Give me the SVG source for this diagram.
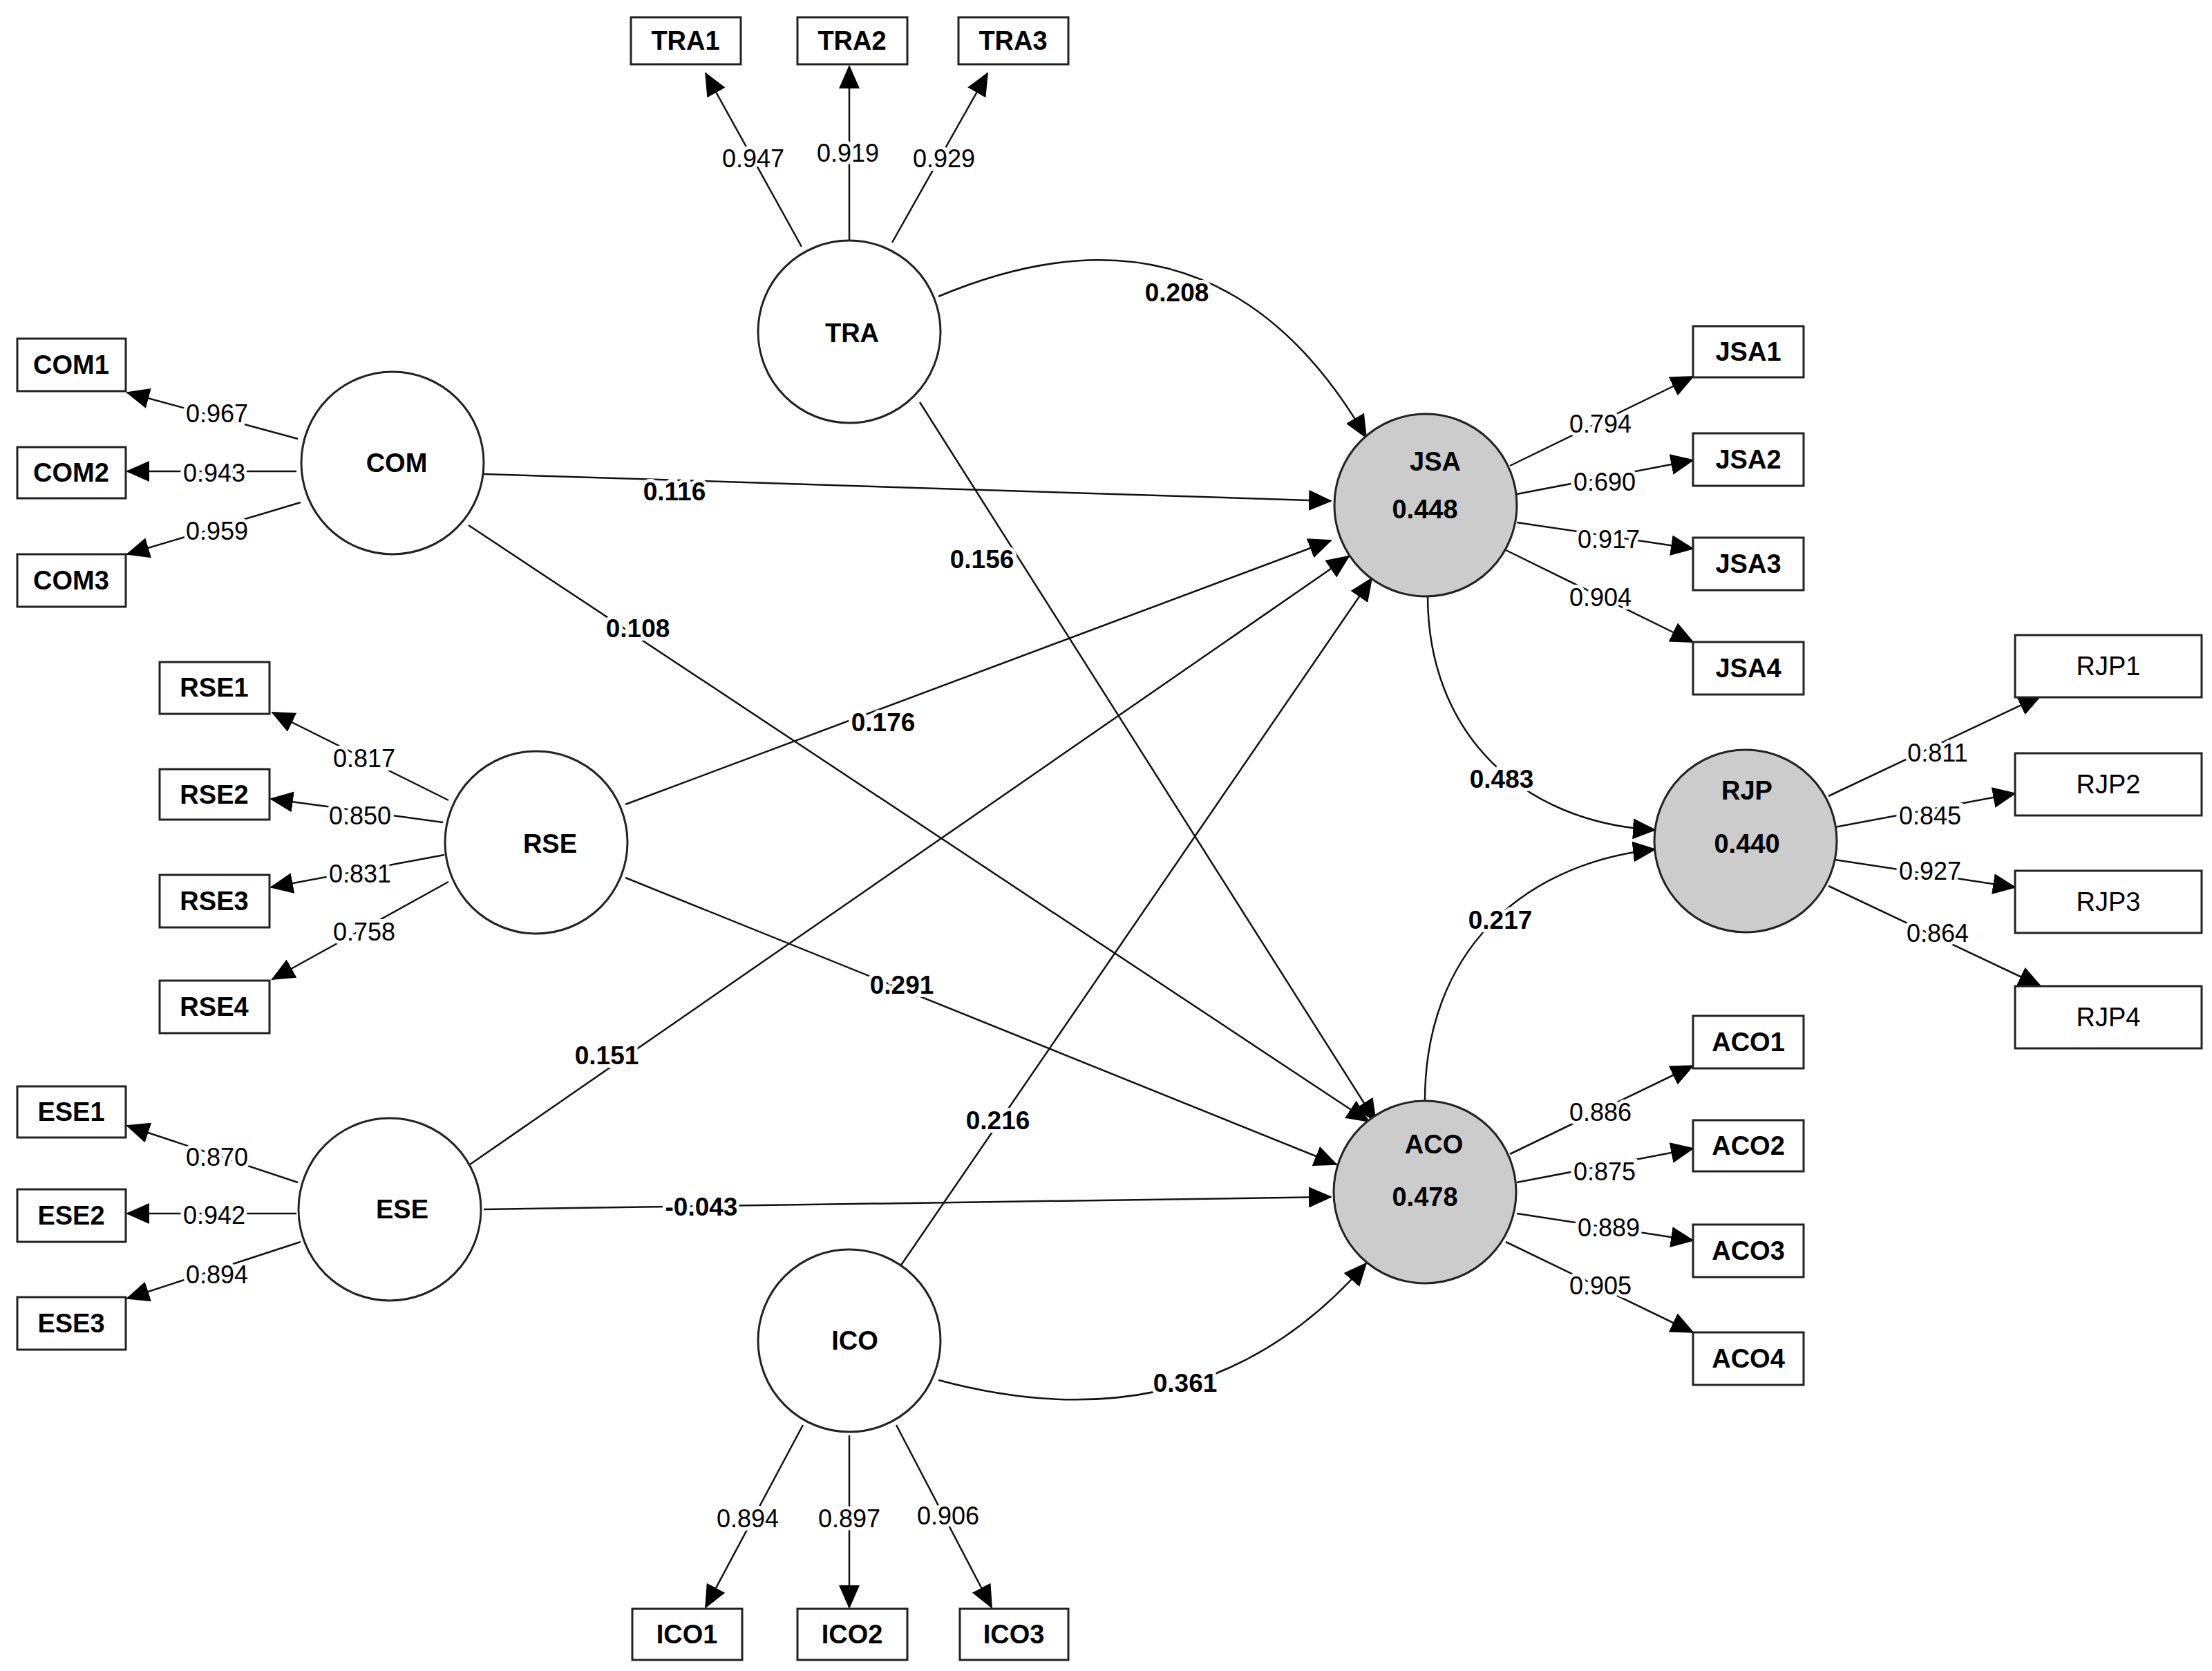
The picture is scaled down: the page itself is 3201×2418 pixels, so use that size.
<svg xmlns="http://www.w3.org/2000/svg" width="3201" height="2418" viewBox="0 0 3201 2418">
<style>
text{font-family:"Liberation Sans Narrow","Liberation Sans",Arial,sans-serif;text-anchor:middle;dominant-baseline:central;fill:#000}
.lv{fill:#fff;stroke:#222;stroke-width:3}
.en{fill:#cccccc;stroke:#222;stroke-width:3}
.bx{fill:#fff;stroke:#222;stroke-width:3}
.bl{font-size:38px;font-weight:bold}
.rg{font-size:38px}
.nm{font-size:36px;paint-order:stroke;stroke:#fff;stroke-width:10px}
.pc{font-size:37px;font-weight:bold;paint-order:stroke;stroke:#fff;stroke-width:10px}
.ln{fill:none;stroke:#111;stroke-width:2.5;marker-end:url(#ah)}
</style>
<defs>
<marker id="ah" markerUnits="userSpaceOnUse" markerWidth="34" markerHeight="30" refX="32" refY="15" orient="auto">
<path d="M0,0 L34,15 L0,30 Z" fill="#000"/>
</marker>
</defs>
<rect width="3201" height="2418" fill="#fff"/>
<g id="connectors">
<line class="ln" x1="1160" y1="357" x2="1021" y2="106"/>
<line class="ln" x1="1229" y1="349" x2="1229" y2="96"/>
<line class="ln" x1="1291" y1="351" x2="1429" y2="106"/>
<line class="ln" x1="431" y1="635" x2="184" y2="568"/>
<line class="ln" x1="429" y1="682" x2="184" y2="682"/>
<line class="ln" x1="435" y1="727" x2="184" y2="802"/>
<line class="ln" x1="649" y1="1158" x2="394" y2="1031"/>
<line class="ln" x1="641" y1="1190" x2="392" y2="1156"/>
<line class="ln" x1="643" y1="1237" x2="392" y2="1284"/>
<line class="ln" x1="649" y1="1276" x2="394" y2="1417"/>
<line class="ln" x1="431" y1="1711" x2="184" y2="1629"/>
<line class="ln" x1="429" y1="1756" x2="184" y2="1756"/>
<line class="ln" x1="435" y1="1797" x2="184" y2="1879"/>
<line class="ln" x1="1162" y1="2062" x2="1021" y2="2326"/>
<line class="ln" x1="1229" y1="2077" x2="1229" y2="2326"/>
<line class="ln" x1="1297" y1="2062" x2="1435" y2="2326"/>
<line class="ln" x1="2185" y1="674" x2="2450" y2="545"/>
<line class="ln" x1="2195" y1="715" x2="2450" y2="666"/>
<line class="ln" x1="2195" y1="756" x2="2450" y2="794"/>
<line class="ln" x1="2179" y1="796" x2="2450" y2="929"/>
<line class="ln" x1="2185" y1="1670" x2="2450" y2="1542"/>
<line class="ln" x1="2195" y1="1711" x2="2450" y2="1662"/>
<line class="ln" x1="2195" y1="1756" x2="2450" y2="1795"/>
<line class="ln" x1="2179" y1="1797" x2="2450" y2="1928"/>
<line class="ln" x1="2646" y1="1152" x2="2953" y2="1007"/>
<line class="ln" x1="2655" y1="1197" x2="2916" y2="1148"/>
<line class="ln" x1="2655" y1="1244" x2="2916" y2="1284"/>
<line class="ln" x1="2646" y1="1282" x2="2953" y2="1427"/>
<path class="ln" d="M1358,429 Q1760,260 1977,633"/>
<line class="ln" x1="700" y1="686" x2="1926" y2="725"/>
<line class="ln" x1="678" y1="760" x2="1981" y2="1623"/>
<line class="ln" x1="1331" y1="582" x2="1991" y2="1623"/>
<line class="ln" x1="905" y1="1164" x2="1926" y2="782"/>
<line class="ln" x1="905" y1="1270" x2="1934" y2="1685"/>
<line class="ln" x1="680" y1="1685" x2="1952" y2="805"/>
<line class="ln" x1="700" y1="1750" x2="1926" y2="1732"/>
<line class="ln" x1="1303" y1="1832" x2="1985" y2="837"/>
<path class="ln" d="M1358,1997 Q1740,2100 1977,1828"/>
<path class="ln" d="M2066,862 C2066,1060 2200,1190 2395,1201"/>
<path class="ln" d="M2062,1593 C2062,1380 2200,1250 2395,1229"/>
</g>
<g id="labels">
<text class="nm" x="1090" y="229">0.947</text>
<text class="nm" x="1227" y="221">0.919</text>
<text class="nm" x="1366" y="229">0.929</text>
<text class="nm" x="314" y="598">0.967</text>
<text class="nm" x="310" y="684">0.943</text>
<text class="nm" x="314" y="768">0.959</text>
<text class="nm" x="527" y="1097">0.817</text>
<text class="nm" x="521" y="1180">0.850</text>
<text class="nm" x="521" y="1264">0.831</text>
<text class="nm" x="527" y="1348">0.758</text>
<text class="nm" x="314" y="1674">0.870</text>
<text class="nm" x="310" y="1758">0.942</text>
<text class="nm" x="314" y="1844">0.894</text>
<text class="nm" x="1082" y="2197">0.894</text>
<text class="nm" x="1229" y="2197">0.897</text>
<text class="nm" x="1372" y="2193">0.906</text>
<text class="nm" x="2316" y="613">0.794</text>
<text class="nm" x="2322" y="697">0.690</text>
<text class="nm" x="2328" y="780">0.917</text>
<text class="nm" x="2316" y="864">0.904</text>
<text class="nm" x="2316" y="1609">0.886</text>
<text class="nm" x="2322" y="1695">0.875</text>
<text class="nm" x="2328" y="1776">0.889</text>
<text class="nm" x="2316" y="1860">0.905</text>
<text class="nm" x="2804" y="1089">0.811</text>
<text class="nm" x="2793" y="1180">0.845</text>
<text class="nm" x="2793" y="1260">0.927</text>
<text class="nm" x="2804" y="1350">0.864</text>
<text class="pc" x="1703" y="423">0.208</text>
<text class="pc" x="976" y="711">0.116</text>
<text class="pc" x="923" y="909">0.108</text>
<text class="pc" x="1421" y="809">0.156</text>
<text class="pc" x="1278" y="1045">0.176</text>
<text class="pc" x="1305" y="1425">0.291</text>
<text class="pc" x="878" y="1527">0.151</text>
<text class="pc" x="1015" y="1746">-0.043</text>
<text class="pc" x="1444" y="1621">0.216</text>
<text class="pc" x="1715" y="2001">0.361</text>
<text class="pc" x="2173" y="1127">0.483</text>
<text class="pc" x="2171" y="1331">0.217</text>
</g>
<g id="TRA"><circle class="lv" cx="1229" cy="480" r="132"/><text class="bl" x="1233" y="482">TRA</text></g>
<g id="COM"><circle class="lv" cx="568" cy="670" r="132"/><text class="bl" x="574" y="670">COM</text></g>
<g id="RSE"><circle class="lv" cx="776" cy="1219" r="132"/><text class="bl" x="796" y="1221">RSE</text></g>
<g id="ESE"><circle class="lv" cx="564" cy="1750" r="132"/><text class="bl" x="582" y="1750">ESE</text></g>
<g id="ICO"><circle class="lv" cx="1229" cy="1940" r="132"/><text class="bl" x="1237" y="1940">ICO</text></g>
<g id="JSA"><circle class="en" cx="2063" cy="731" r="132"/><text class="bl" x="2077" y="668">JSA</text><text class="bl" x="2062" y="737">0.448</text></g>
<g id="ACO"><circle class="en" cx="2062" cy="1725" r="132"/><text class="bl" x="2075" y="1656">ACO</text><text class="bl" x="2062" y="1732">0.478</text></g>
<g id="RJP"><circle class="en" cx="2526" cy="1217" r="132"/><text class="bl" x="2528" y="1144">RJP</text><text class="bl" x="2528" y="1221">0.440</text></g>
<g id="TRA1"><rect class="bx" x="913" y="25" width="159" height="68"/><text class="bl" x="992" y="59">TRA1</text></g>
<g id="TRA2"><rect class="bx" x="1154" y="25" width="159" height="68"/><text class="bl" x="1233" y="59">TRA2</text></g>
<g id="TRA3"><rect class="bx" x="1387" y="25" width="159" height="68"/><text class="bl" x="1466" y="59">TRA3</text></g>
<g id="COM1"><rect class="bx" x="25" y="490" width="157" height="76"/><text class="bl" x="103" y="528">COM1</text></g>
<g id="COM2"><rect class="bx" x="25" y="647" width="157" height="74"/><text class="bl" x="103" y="684">COM2</text></g>
<g id="COM3"><rect class="bx" x="25" y="802" width="157" height="76"/><text class="bl" x="103" y="840">COM3</text></g>
<g id="RSE1"><rect class="bx" x="231" y="958" width="159" height="75"/><text class="bl" x="310" y="995">RSE1</text></g>
<g id="RSE2"><rect class="bx" x="231" y="1113" width="159" height="73"/><text class="bl" x="310" y="1150">RSE2</text></g>
<g id="RSE3"><rect class="bx" x="231" y="1266" width="159" height="76"/><text class="bl" x="310" y="1304">RSE3</text></g>
<g id="RSE4"><rect class="bx" x="231" y="1419" width="159" height="76"/><text class="bl" x="310" y="1457">RSE4</text></g>
<g id="ESE1"><rect class="bx" x="25" y="1572" width="157" height="74"/><text class="bl" x="103" y="1609">ESE1</text></g>
<g id="ESE2"><rect class="bx" x="25" y="1721" width="157" height="76"/><text class="bl" x="103" y="1759">ESE2</text></g>
<g id="ESE3"><rect class="bx" x="25" y="1877" width="157" height="76"/><text class="bl" x="103" y="1915">ESE3</text></g>
<g id="ICO1"><rect class="bx" x="915" y="2328" width="159" height="74"/><text class="bl" x="994" y="2365">ICO1</text></g>
<g id="ICO2"><rect class="bx" x="1154" y="2328" width="159" height="74"/><text class="bl" x="1233" y="2365">ICO2</text></g>
<g id="ICO3"><rect class="bx" x="1389" y="2328" width="157" height="74"/><text class="bl" x="1467" y="2365">ICO3</text></g>
<g id="JSA1"><rect class="bx" x="2450" y="472" width="160" height="74"/><text class="bl" x="2530" y="509">JSA1</text></g>
<g id="JSA2"><rect class="bx" x="2450" y="627" width="160" height="76"/><text class="bl" x="2530" y="665">JSA2</text></g>
<g id="JSA3"><rect class="bx" x="2450" y="778" width="160" height="76"/><text class="bl" x="2530" y="816">JSA3</text></g>
<g id="JSA4"><rect class="bx" x="2450" y="929" width="160" height="76"/><text class="bl" x="2530" y="967">JSA4</text></g>
<g id="ACO1"><rect class="bx" x="2450" y="1470" width="160" height="76"/><text class="bl" x="2530" y="1508">ACO1</text></g>
<g id="ACO2"><rect class="bx" x="2450" y="1621" width="160" height="74"/><text class="bl" x="2530" y="1658">ACO2</text></g>
<g id="ACO3"><rect class="bx" x="2450" y="1772" width="160" height="76"/><text class="bl" x="2530" y="1810">ACO3</text></g>
<g id="ACO4"><rect class="bx" x="2450" y="1928" width="160" height="76"/><text class="bl" x="2530" y="1966">ACO4</text></g>
<g id="RJP1"><rect class="bx" x="2916" y="919" width="270" height="90"/><text class="rg" x="3051" y="964">RJP1</text></g>
<g id="RJP2"><rect class="bx" x="2916" y="1090" width="270" height="90"/><text class="rg" x="3051" y="1135">RJP2</text></g>
<g id="RJP3"><rect class="bx" x="2916" y="1260" width="270" height="90"/><text class="rg" x="3051" y="1305">RJP3</text></g>
<g id="RJP4"><rect class="bx" x="2916" y="1427" width="270" height="90"/><text class="rg" x="3051" y="1472">RJP4</text></g>
</svg>
